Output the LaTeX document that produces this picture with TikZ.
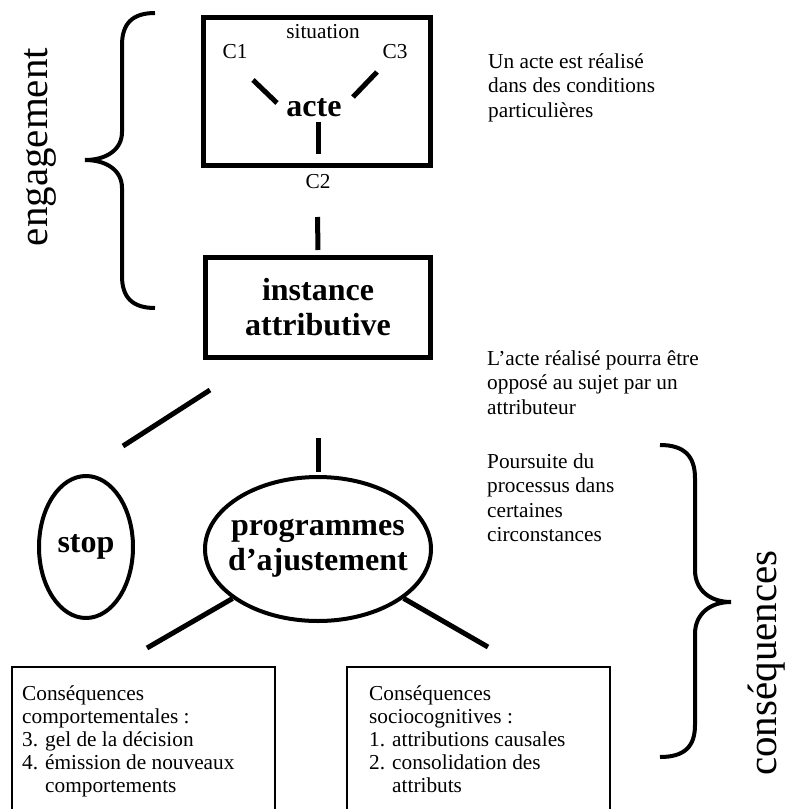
\documentclass[tikz,border=0pt]{standalone}
\usepackage{fontspec}
\setmainfont{Liberation Serif}
\usetikzlibrary{shapes.geometric}
\newcommand{\lignes}[1]{\begin{tabular}[t]{@{}l@{}}#1\end{tabular}}
\newcommand{\puce}[2]{\makebox[23pt][l]{#1}#2}
\begin{document}
\begin{tikzpicture}[x=1pt,y=-1pt,
    cadre/.style={draw,line width=5pt,inner sep=0pt},
    bulle/.style={draw,ellipse,line width=4pt,inner sep=0pt},
    encadre/.style={draw,line width=1.5pt,outer sep=0pt,inner sep=0pt},
    texte/.style={font=\fontsize{21.3}{24.5}\selectfont,inner sep=0pt},
    liste/.style={font=\fontsize{21.3}{23}\selectfont,inner sep=0pt},
    gras/.style={font=\fontsize{32}{35}\selectfont\bfseries,align=center,inner sep=0pt},
    titre/.style={font=\fontsize{41}{41}\selectfont,rotate=90,inner sep=0pt},
    trait/.style={line width=5pt},
    accolade/.style={line width=4pt}]
  \useasboundingbox (0,0) rectangle (788,809);
  % engagement
  \node[cadre,minimum width=227pt,minimum height=148pt] (situation) at (317,91.5) {};
  \node[texte] (sitlbl) at (323,32) {situation};
  \node[texte] (c1) at (235,52) {C1};
  \node[texte] (c3) at (395,52) {C3};
  \node[texte] (c2) at (318,182) {C2};
  \node[gras] (acte) at (314,108) {acte};
  \node[cadre,gras,minimum width=225pt,minimum height=100pt] (instance) at (318,307.5) {instance\\attributive};
  \node[titre] (engagement) at (40,147) {engagement};
  % consequences
  \node[bulle,gras,minimum width=94pt,minimum height=142pt] (stop) at (86,547) {stop};
  \node[bulle,minimum width=226pt,minimum height=144pt] (programmes) at (318,549) {};
  \node[gras] (progtxt) at (318,548) {programmes\\d’ajustement};
  \node[titre] (consequences) at (767,663) {conséquences};
  \node[encadre,anchor=north west,minimum width=263pt,minimum height=170pt] (comport) at (12,667) {};
  \node[encadre,anchor=north west,minimum width=263pt,minimum height=170pt] (sociocog) at (347,667) {};
  \node[liste,anchor=base west] (comptxt) at (22,700) {\lignes{Conséquences\\comportementales :\\\puce{3.}{gel de la décision}\\\puce{4.}{émission de nouveaux}\\\hspace*{23pt}comportements}};
  \node[liste,anchor=base west] (sociotxt) at (369,700) {\lignes{Conséquences\\sociocognitives :\\\puce{1.}{attributions causales}\\\puce{2.}{consolidation des}\\\hspace*{23pt}attributs}};
  % commentaires
  \node[texte,anchor=base west] (note1) at (488,68) {\lignes{Un acte est réalisé\\dans des conditions\\particulières}};
  \node[texte,anchor=base west] (note2) at (487,365) {\lignes{L’acte réalisé pourra être\\opposé au sujet par un\\attributeur}};
  \node[texte,anchor=base west] (note3) at (487,468) {\lignes{Poursuite du\\processus dans\\certaines\\circonstances}};
  \coordinate (c1a) at (253,80);
  \coordinate (c1b) at (277,103);
  \coordinate (c3a) at (377,72);
  \coordinate (c3b) at (353,97);
  \coordinate (c2a) at (318,122);
  \coordinate (c2b) at (318,154);
  \coordinate (arreta) at (210,390);
  \coordinate (arretb) at (123,446);
  \coordinate (basg) at (147,648);
  \coordinate (basd) at (488,647);
  \begin{scope}[trait]
    \draw (c1a) -- (c1b);
    \draw (c3a) -- (c3b);
    \draw (c2a) -- (c2b);
    \draw[shorten <=49pt,shorten >=5pt] (situation.south) -- (instance.north);
    \draw (arreta) -- (arretb);
    \draw[shorten <=78pt,shorten >=3pt] (instance.south) -- (programmes.north);
    \draw (programmes) -- (basg);
    \draw (programmes) -- (basd);
  \end{scope}
  % accolades
  \draw[accolade] (155,13) .. controls (132,13) and (122,24) .. (122,45) -- (122,132)
    .. controls (122,150) and (106,160) .. (85,160)
    .. controls (106,160) and (122,170) .. (122,188) -- (122,276)
    .. controls (122,297) and (132,308) .. (155,308);
  \draw[accolade] (660,445) .. controls (684,445) and (695,456) .. (695,478) -- (695,570)
    .. controls (695,590) and (710,602) .. (731,602)
    .. controls (710,602) and (695,614) .. (695,634) -- (695,725)
    .. controls (695,747) and (684,757) .. (660,757);
\end{tikzpicture}
\end{document}
